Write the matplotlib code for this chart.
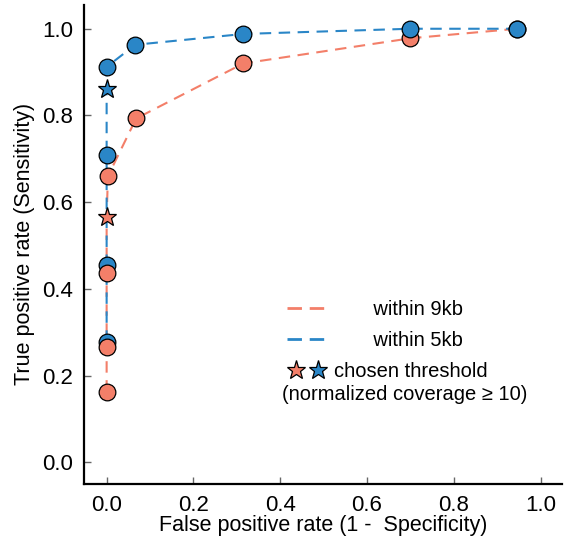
import numpy as np
import matplotlib.pyplot as plt
from matplotlib.lines import Line2D
from matplotlib.legend_handler import HandlerTuple

plt.rcParams['font.family'] = ['Liberation Sans', 'DejaVu Sans']

# within 9kb (orange)
fpr_9 = np.array([0.0, 0.0, 0.0, 0.0, 0.003, 0.068, 0.315, 0.70, 0.945])
tpr_9 = np.array([0.163, 0.267, 0.437, 0.565, 0.660, 0.793, 0.920, 0.978, 1.0])
star_9 = (0.0, 0.565)
# within 5kb (blue)
fpr_5 = np.array([0.0, 0.0, 0.0, 0.0, 0.0, 0.066, 0.315, 0.70, 0.945])
tpr_5 = np.array([0.278, 0.455, 0.709, 0.860, 0.912, 0.963, 0.988, 1.0, 1.0])
star_5 = (0.0, 0.860)

orange = '#F37F69'
blue = '#2A86C7'

fig = plt.figure(figsize=(5.68, 5.45), dpi=100)
ax = fig.add_axes([0.148, 0.112, 0.842, 0.879])

ax.plot(fpr_9, tpr_9, '--', color=orange, lw=1.5, dashes=(5.5, 3.6), zorder=1)
ax.plot(fpr_5, tpr_5, '--', color=blue, lw=1.5, dashes=(5.5, 3.6), zorder=1.5)

# circles (stars are drawn separately)
m9 = tpr_9 != star_9[1]
m5 = tpr_5 != star_5[1]
low5 = m5 & (fpr_5 == 0)
high5 = m5 & (fpr_5 > 0)
ax.plot(fpr_5[low5], tpr_5[low5], 'o', ms=12, mfc=blue, mec='k', mew=0.9, zorder=2)
ax.plot(fpr_9[m9], tpr_9[m9], 'o', ms=12, mfc=orange, mec='k', mew=0.9, zorder=3)
ax.plot(fpr_5[high5], tpr_5[high5], 'o', ms=12, mfc=blue, mec='k', mew=0.9, zorder=4)

ax.plot(*star_9, '*', ms=14, mfc=orange, mec='k', mew=0.9, zorder=5)
ax.plot(*star_5, '*', ms=14, mfc=blue, mec='k', mew=0.9, zorder=5)

ax.set_xlim(-0.052, 1.05)
ax.set_ylim(-0.05, 1.055)
ax.set_xticks(np.arange(0, 1.01, 0.2))
ax.set_yticks(np.arange(0, 1.01, 0.2))
ax.tick_params(direction='in', length=5, width=1, color='0.4', labelsize=16, pad=8)
for s in ['top', 'right']:
    ax.spines[s].set_visible(False)
for s in ['left', 'bottom']:
    ax.spines[s].set_linewidth(1.6)

ax.set_xlabel('False positive rate (1 -  Specificity)', fontsize=15.5, labelpad=-1)
ax.set_ylabel('True positive rate (Sensitivity)', fontsize=15.5, labelpad=5)

h9 = Line2D([], [], ls='--', color=orange, lw=2, dashes=(5.2, 2.8))
h5 = Line2D([], [], ls='--', color=blue, lw=2, dashes=(5.2, 2.8))
s9 = Line2D([], [], ls='', marker='*', ms=14, mfc=orange, mec='k', mew=0.9)
s5 = Line2D([], [], ls='', marker='*', ms=14, mfc=blue, mec='k', mew=0.9)
leg = ax.legend([h9, h5, (s9, s5)],
                ['       within 9kb', '       within 5kb', 'chosen threshold'],
                handler_map={tuple: HandlerTuple(ndivide=None, pad=0.2)},
                frameon=False, fontsize=14.5, loc='upper left',
                bbox_to_anchor=(0.416, 0.375), bbox_transform=ax.transData,
                borderpad=0, borderaxespad=0, handlelength=1.95,
                handletextpad=0.4, labelspacing=0.6)
ax.text(0.686, 0.156, '(normalized coverage \u2265 10)', fontsize=14.5,
        ha='center', va='center')

fig.savefig('out.png', dpi=100)
